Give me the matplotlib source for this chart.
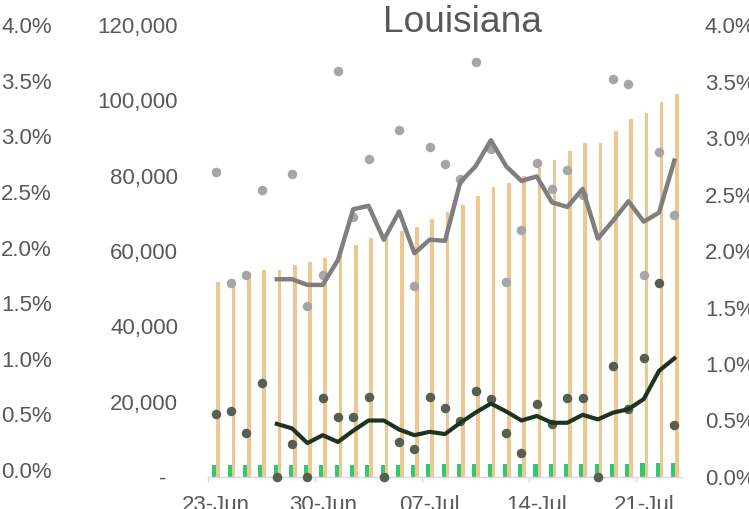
import numpy as np
import pandas as pd
import matplotlib
matplotlib.use('Agg')
import matplotlib.pyplot as plt
from matplotlib.ticker import FuncFormatter, FixedLocator

plt.rcParams['font.family'] = ['Liberation Sans', 'DejaVu Sans']

# dates 23-Jun .. 23-Jul
dates = pd.date_range('2020-06-23', '2020-07-23', freq='D')
tick_labels = ['23-Jun', '30-Jun', '07-Jul', '14-Jul', '21-Jul']

# cumulative cases (left axis, orange bars)
cases = [51690, 52490, 53600, 54960, 54960, 56290, 57160, 58220, 60270, 61680,
         63450, 63450, 65390, 66450, 68420, 70360, 72080, 74690, 77000, 78140,
         79920, 82120, 84160, 86550, 88680, 88680, 91860, 94970, 96640, 99480,
         101690]
# cumulative deaths (left axis, green bars)
deaths = [3140, 3157, 3169, 3195, 3195, 3204, 3204, 3226, 3243, 3260,
          3283, 3283, 3293, 3300, 3323, 3343, 3359, 3384, 3407, 3420,
          3427, 3448, 3463, 3487, 3511, 3511, 3545, 3565, 3602, 3664,
          3680]

# daily growth in cases, % (right axis, gray dots)
case_growth = [2.70, 1.72, 1.79, 2.54, 0.00, 2.68, 1.51, 1.79, 3.59, 2.30,
               2.81, 0.00, 3.07, 1.69, 2.92, 2.77, 2.64, 3.67, 2.90, 1.73,
               2.19, 2.78, 2.55, 2.72, 2.50, 0.00, 3.52, 3.48, 1.79, 2.88,
               2.32]
# rolling average of case growth, % (gray line)
case_avg = [np.nan, np.nan, np.nan, np.nan, 1.75, 1.75, 1.70, 1.70, 1.92, 2.37,
            2.40, 2.10, 2.35, 1.98, 2.10, 2.09, 2.61, 2.75, 2.98, 2.75,
            2.62, 2.66, 2.43, 2.39, 2.55, 2.11, 2.27, 2.44, 2.26, 2.34,
            2.80]
# daily growth in deaths, % (dark dots)
death_growth = [0.56, 0.58, 0.39, 0.83, 0.00, 0.29, 0.00, 0.70, 0.53, 0.53,
                0.71, 0.00, 0.31, 0.25, 0.71, 0.61, 0.50, 0.76, 0.69, 0.39,
                0.21, 0.65, 0.47, 0.70, 0.70, 0.00, 0.98, 0.60, 1.05, 1.72,
                0.46]
# rolling average of death growth, % (dark line)
death_avg = [np.nan, np.nan, np.nan, np.nan, 0.47, 0.43, 0.30, 0.37, 0.31, 0.41,
             0.50, 0.50, 0.42, 0.37, 0.40, 0.38, 0.48, 0.57, 0.65, 0.58,
             0.50, 0.54, 0.48, 0.48, 0.55, 0.51, 0.57, 0.60, 0.69, 0.94,
             1.05]

txt = '#595959'
W, H = 749, 509
fig = plt.figure(figsize=(W / 100, H / 100), dpi=100)

# main axes: counts on the left
ax = fig.add_axes([208 / W, (H - 477) / H, 474 / W, 452 / H])
x = np.arange(len(dates))
ax.bar(x - 0.08, deaths, width=0.27, color='#33c772', zorder=2)
ax.bar(x + 0.17, cases, width=0.24, color='#edc78f', zorder=2)
ax.set_xlim(-0.5, len(dates) - 0.5)
ax.set_ylim(0, 120000)
ax.set_yticks(np.arange(0, 120001, 20000))
ax.yaxis.set_major_formatter(FuncFormatter(
    lambda v, p: '-  ' if v == 0 else '{:,.0f}'.format(v)))
ax.tick_params(axis='y', length=0, pad=21.5, labelsize=16, labelcolor=txt)

# x axis: labels on category centres, tick marks on week boundaries
label_pos = [i for i, d in enumerate(dates) if d.strftime('%d-%b') in tick_labels]
ax.xaxis.set_major_locator(FixedLocator(label_pos))
ax.set_xticklabels([dates[i].strftime('%d-%b') for i in label_pos])
ax.xaxis.set_minor_locator(FixedLocator([p - 0.5 for p in label_pos]))
ax.tick_params(axis='x', which='major', length=0, pad=13, labelsize=16,
               labelcolor=txt)
ax.tick_params(axis='x', which='minor', length=3.6, width=1, color='#d9d9d9')
for s in ['top', 'left', 'right']:
    ax.spines[s].set_visible(False)
ax.spines['bottom'].set_color('#d9d9d9')
ax.spines['bottom'].set_linewidth(1)

# right axis: percentages
ax2 = ax.twinx()
pct = lambda v: np.array(v) / 100
ax2.scatter(x, pct(case_growth), s=34, color='#a6a6a6', zorder=3, clip_on=False)
ax2.scatter(x, pct(death_growth), s=34, color='#56604f', zorder=4, clip_on=False)
ax2.plot(x, pct(case_avg), color='#7f7f7f', lw=3.2, zorder=5)
ax2.plot(x, pct(death_avg), color='#1c3520', lw=3.0, zorder=6)
ax2.set_ylim(0, 0.04)
ax2.set_yticks(np.arange(0, 0.0401, 0.005))
ax2.yaxis.set_major_formatter(FuncFormatter(lambda v, p: '{:.1%}'.format(v)))
ax2.tick_params(axis='y', length=0, pad=16.5, labelsize=16, labelcolor=txt)
for s in ax2.spines.values():
    s.set_visible(False)

# outer left percentage axis
ax3 = fig.add_axes([56 / W, (H - 470) / H, 0.001, 445 / H])
ax3.set_ylim(0, 0.04)
ax3.set_yticks(np.arange(0, 0.0401, 0.005))
ax3.yaxis.set_major_formatter(FuncFormatter(lambda v, p: '{:.1%}'.format(v)))
ax3.tick_params(axis='y', length=0, pad=3, labelsize=16, labelcolor=txt)
ax3.set_xticks([])
ax3.patch.set_visible(False)
for s in ax3.spines.values():
    s.set_visible(False)

fig.text(462.5 / W, 1 - 32 / H, 'Louisiana', ha='center', va='baseline',
         fontsize=26.7, color=txt)

fig.savefig('out.png', dpi=100)
